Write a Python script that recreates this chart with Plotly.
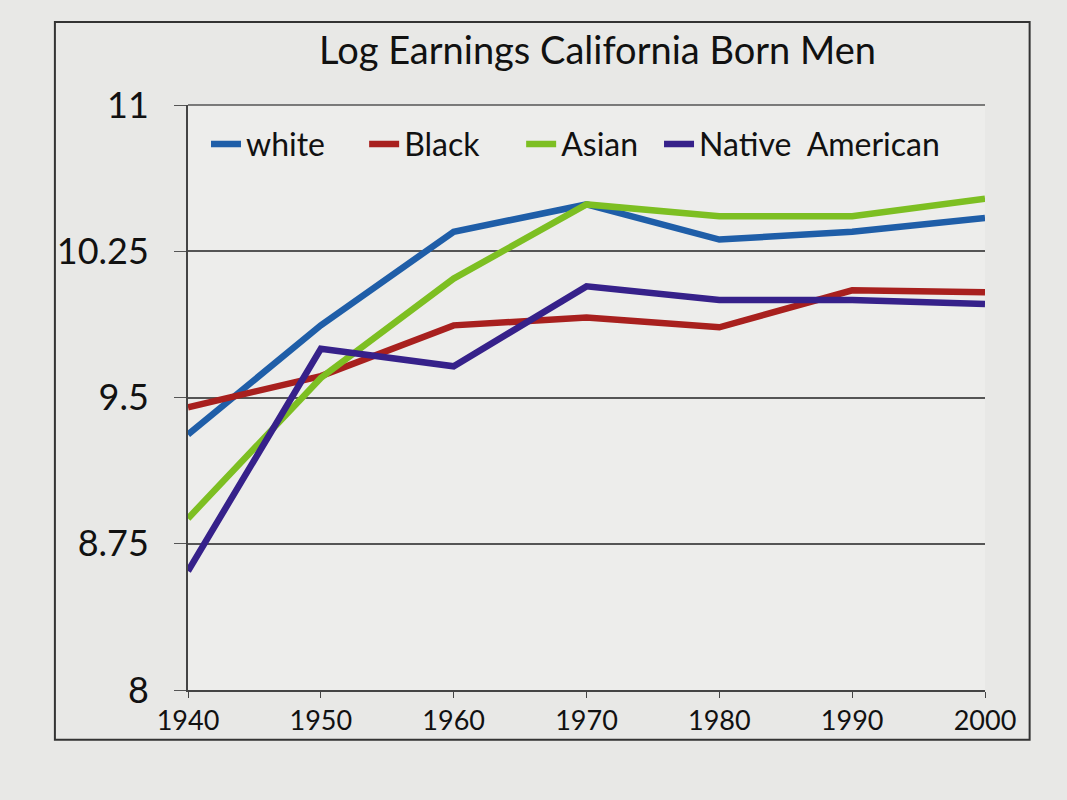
import plotly.graph_objects as go

years = [1940, 1950, 1960, 1970, 1980, 1990, 2000]
white = [9.31, 9.87, 10.35, 10.49, 10.31, 10.35, 10.42]
black = [9.45, 9.61, 9.87, 9.91, 9.86, 10.05, 10.04]
asian = [8.88, 9.60, 10.11, 10.49, 10.43, 10.43, 10.52]
native = [8.61, 9.75, 9.66, 10.07, 10.00, 10.00, 9.98]

y_ticks = [8, 8.75, 9.5, 10.25, 11]
y_labels = ["8", "8.75", "9.5", "10.25", "11"]

series = [
    ("white", white, "#1f5ea8"),
    ("Black", black, "#a8201e"),
    ("Asian", asian, "#7dbf22"),
    ("Native  American", native, "#36218a"),
]
legend_x = [0.0226, 0.221, 0.418, 0.591]

fig = go.Figure()
legend_layouts = {}
for i, (name, vals, col) in enumerate(series):
    lg = "legend" if i == 0 else f"legend{i+1}"
    fig.add_trace(go.Scatter(x=years, y=vals, name=name, mode="lines",
                             line=dict(color=col, width=6.5), legend=lg))
    legend_layouts[lg] = dict(orientation="h", x=legend_x[i], y=0.98,
                              xanchor="left", yanchor="top",
                              bgcolor="rgba(0,0,0,0)", font=dict(size=32),
                              itemwidth=30)

fig.update_layout(
    width=1067, height=800,
    margin=dict(l=188, r=82, t=105, b=110),
    paper_bgcolor="#e8e8e6",
    plot_bgcolor="#ededeb",
    font=dict(family="Lato, Open Sans, sans-serif", color="#111111"),
    title=dict(text="Log Earnings California Born Men", x=0.56, xanchor="center",
               y=0.937, yanchor="middle", font=dict(size=38, color="#111111")),
    showlegend=True,
    **legend_layouts,
)
fig.update_xaxes(range=[1940, 2000], tickvals=years, ticks="outside", ticklen=6,
                 tickcolor="#444", showline=True, linecolor="#444", linewidth=2,
                 showgrid=False, zeroline=False, tickfont=dict(size=27))
fig.update_yaxes(range=[8, 11], tickvals=y_ticks, ticktext=y_labels, ticks="outside",
                 ticklen=12, tickcolor="#555", showline=True, linecolor="#444",
                 linewidth=2, showgrid=True, gridcolor="#555", gridwidth=1.5,
                 zeroline=False, tickfont=dict(size=36), ticklabelstandoff=18)

# top border line at 11 (gridline at the plot edge)
fig.add_shape(type="line", xref="paper", yref="paper", x0=0, x1=1, y0=1, y1=1,
              line=dict(color="#555", width=1.5))
# outer chart frame
fig.add_shape(type="rect", xref="paper", yref="paper",
              x0=-0.167, x1=1.056, y0=-0.085, y1=1.142,
              line=dict(color="#333", width=2), fillcolor="rgba(0,0,0,0)", layer="below")

fig.write_html("out.html")
